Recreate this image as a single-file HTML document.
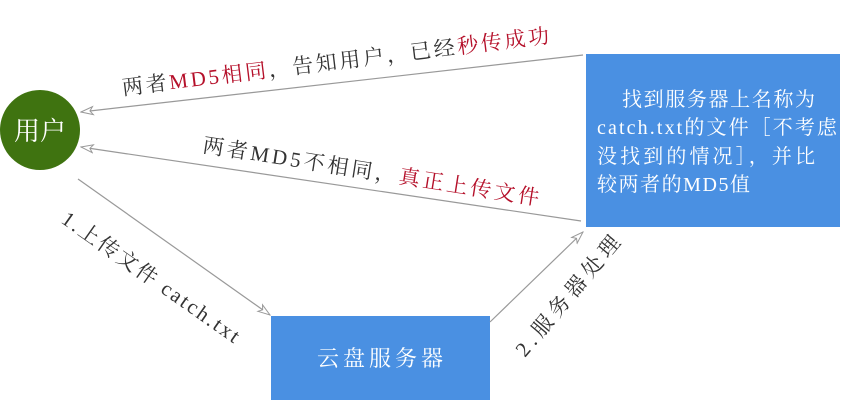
<!DOCTYPE html>
<html><head><meta charset="utf-8"><style>
html,body{margin:0;padding:0;background:#fff;width:850px;height:412px;overflow:hidden}
text{font-family:"Liberation Serif","Noto Serif CJK SC",serif}
</style></head><body>
<svg width="850" height="412" xmlns="http://www.w3.org/2000/svg">
<defs>
<marker id="a" markerWidth="14" markerHeight="10" refX="13" refY="5" orient="auto" markerUnits="userSpaceOnUse">
<path d="M1,1 L13,5 L1,9 L4,5 Z" fill="#fff" stroke="#999" stroke-width="1"/>
</marker>
</defs>
<rect x="586" y="54" width="254" height="173" fill="#4a90e2"/>
<rect x="271" y="316" width="219" height="84" fill="#4a90e2"/>
<circle cx="40" cy="130" r="40" fill="#3f7310"/>
<text x="40" y="140" fill="#fff" font-size="26" text-anchor="middle" textLength="52" lengthAdjust="spacing">用户</text>
<text x="380" y="366" fill="#fff" font-size="22" text-anchor="middle" textLength="126" lengthAdjust="spacing">云盘服务器</text>
<g fill="#fff" font-size="20">
<text x="622" y="106" textLength="193" lengthAdjust="spacing">找到服务器上名称为</text>
<text x="597" y="134" textLength="240" lengthAdjust="spacing">catch.txt的文件［不考虑</text>
<text x="597" y="163" textLength="218" lengthAdjust="spacing">没找到的情况］，并比</text>
<text x="597" y="191" textLength="153" lengthAdjust="spacing">较两者的MD5值</text>
</g>
<g stroke="#999" stroke-width="1.2" fill="none">
<line x1="583" y1="55" x2="81" y2="112" marker-end="url(#a)"/>
<line x1="581" y1="221" x2="81" y2="147" marker-end="url(#a)"/>
<line x1="78" y1="179" x2="270" y2="315" marker-end="url(#a)"/>
<line x1="490" y1="322" x2="583" y2="232" marker-end="url(#a)"/>
</g>
<g font-size="21" fill="#333">
<text transform="translate(123,95) rotate(-7)" textLength="430" lengthAdjust="spacing">两者<tspan fill="#b5102a">MD5相同</tspan>，告知用户，已经<tspan fill="#b5102a">秒传成功</tspan></text>
<text transform="translate(202,152) rotate(9)" textLength="340" lengthAdjust="spacing">两者MD5不相同，<tspan fill="#b5102a">真正上传文件</tspan></text>
<text transform="translate(60,222) rotate(35)" textLength="212" lengthAdjust="spacing">1.上传文件 catch.txt</text>
<text transform="translate(525,358) rotate(-50)" textLength="150" lengthAdjust="spacing">2.服务器处理</text>
</g>
</svg>
</body></html>
